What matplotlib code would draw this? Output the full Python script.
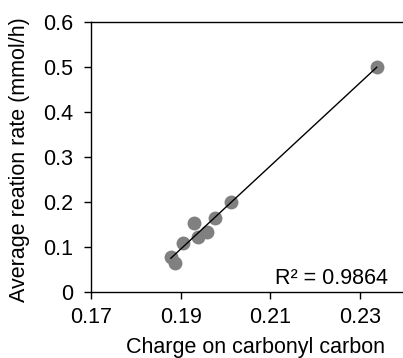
import numpy as np
import matplotlib.pyplot as plt

plt.rcParams['font.family'] = ['Liberation Sans', 'DejaVu Sans']

# charge on carbonyl carbon vs average reaction rate
charge = [0.1878, 0.1887, 0.1906, 0.1930, 0.1938, 0.1958, 0.1977, 0.2011, 0.2337]
rate = [0.077, 0.064, 0.110, 0.154, 0.123, 0.134, 0.164, 0.201, 0.499]
xticks = [0.17, 0.19, 0.21, 0.23]
yticks = [0, 0.1, 0.2, 0.3, 0.4, 0.5, 0.6]
r2_label = "R² = 0.9864"

fig = plt.figure(figsize=(4.03, 3.58), dpi=100)
ax = fig.add_axes([91/403, 1-292/358, 314/403, 270/358])

ax.scatter(charge, rate, s=100, color='#808080', zorder=2, linewidths=0)

# linear trendline
slope, icpt = np.polyfit(charge, rate, 1)
xs = np.array([min(charge), max(charge)])
ax.plot(xs, slope*xs + icpt, color='black', lw=1, zorder=3)

ax.set_xlim(0.17, 0.24)
ax.set_ylim(0, 0.6)
ax.set_xticks(xticks)
ax.set_xticklabels(["0.17", "0.19", "0.21", "0.23"])
ax.set_yticks(yticks)
ax.set_yticklabels(["0", "0.1", "0.2", "0.3", "0.4", "0.5", "0.6"])
ax.tick_params(labelsize=15.5, length=5, width=1, direction='out')
ax.tick_params(axis='x', pad=6)
ax.tick_params(axis='y', pad=8)
ax.spines['right'].set_visible(False)
for s in ['left', 'bottom', 'top']:
    ax.spines[s].set_linewidth(1)

ax.set_xlabel("Charge on carbonyl carbon", fontsize=15.5)
ax.set_ylabel("Average reation rate (mmol/h)", fontsize=15.5)
ax.xaxis.set_label_coords(0.525, -0.165)
ax.yaxis.set_label_coords(-0.195, 0.49)

ax.text(388/403, 1-278/358, r2_label, transform=fig.transFigure,
        ha='right', va='center', fontsize=15.5)

fig.savefig("out.png", dpi=100)
